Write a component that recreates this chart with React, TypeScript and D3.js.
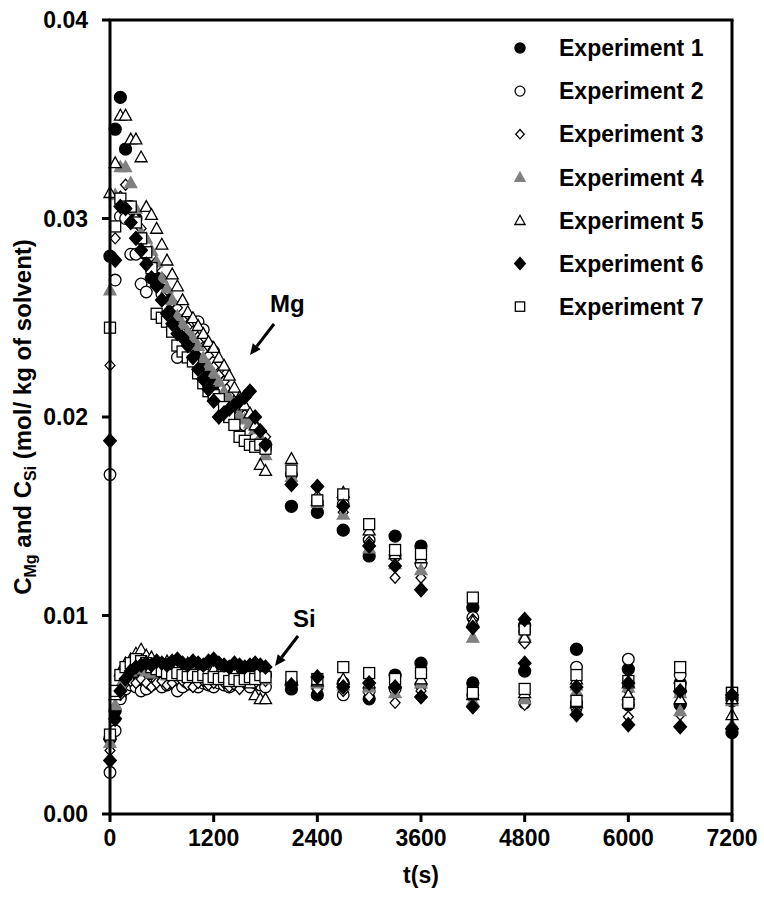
import React from "react";
import * as d3 from "d3";

// Sampling times (s): every 60 s up to 1800 s, then sparse samples.
const times = [
  0, 60, 120, 180, 240, 300, 360, 420, 480, 540, 600, 660, 720, 780, 840, 900,
  960, 1020, 1080, 1140, 1200, 1260, 1320, 1380, 1440, 1500, 1560, 1620, 1680,
  1740, 1800, 2100, 2400, 2700, 3000, 3300, 3600, 4200, 4800, 5400, 6000, 6600,
  7200,
];

// Mg concentration (mol/kg of solvent)
const mg1 = [0.0281,0.0345,0.0361,0.0335,0.0306,0.0300,0.0290,0.0282,0.0275,0.0270,0.0264,0.0260,0.0254,0.0249,0.0245,0.0238,0.0236,0.0233,0.0226,0.0222,0.0218,0.0214,0.0209,0.0205,0.0201,0.0198,0.0196,0.0193,0.0191,0.0189,0.0186,0.0155,0.0152,0.0143,0.0130,0.0140,0.0135,0.0104,0.0095,0.0083,0.0073,0.0066,0.0058];
const mg2 = [0.0171,0.0269,0.0301,0.0300,0.0282,0.0282,0.0267,0.0263,0.0270,0.0268,0.0262,0.0250,0.0244,0.0230,0.0246,0.0244,0.0248,0.0248,0.0244,0.0236,0.0233,0.0225,0.0214,0.0208,0.0206,0.0200,0.0196,0.0192,0.0189,0.0186,0.0184,0.0171,0.0157,0.0156,0.0138,0.0130,0.0126,0.0099,0.0092,0.0074,0.0078,0.0070,0.0059];
const mg3 = [0.0226,0.0290,0.0311,0.0317,0.0306,0.0300,0.0295,0.0283,0.0281,0.0276,0.0270,0.0264,0.0258,0.0255,0.0249,0.0245,0.0243,0.0238,0.0233,0.0231,0.0225,0.0221,0.0218,0.0211,0.0208,0.0204,0.0201,0.0198,0.0196,0.0193,0.0190,0.0172,0.0160,0.0152,0.0137,0.0119,0.0119,0.0098,0.0086,0.0066,0.0062,0.0060,0.0057];
const mg4 = [0.0264,0.0312,0.0326,0.0326,0.0318,0.0305,0.0293,0.0290,0.0284,0.0278,0.0270,0.0265,0.0259,0.0251,0.0247,0.0243,0.0240,0.0236,0.0230,0.0226,0.0222,0.0218,0.0213,0.0210,0.0205,0.0201,0.0199,0.0197,0.0194,0.0190,0.0181,0.0170,0.0157,0.0151,0.0134,0.0126,0.0123,0.0089,0.0090,0.0065,0.0064,0.0061,0.0057];
const mg5 = [0.0313,0.0328,0.0352,0.0352,0.0340,0.0340,0.0331,0.0306,0.0302,0.0295,0.0287,0.0279,0.0272,0.0266,0.0259,0.0253,0.0250,0.0246,0.0242,0.0238,0.0235,0.0230,0.0226,0.0221,0.0215,0.0210,0.0206,0.0202,0.0196,0.0176,0.0173,0.0179,0.0158,0.0162,0.0143,0.0131,0.0129,0.0097,0.0089,0.0068,0.0066,0.0064,0.0058];
const mg6 = [0.0188,0.0279,0.0306,0.0305,0.0298,0.0290,0.0284,0.0277,0.0270,0.0266,0.0259,0.0252,0.0247,0.0242,0.0240,0.0236,0.0230,0.0224,0.0219,0.0214,0.0208,0.0200,0.0202,0.0204,0.0206,0.0208,0.0210,0.0213,0.0200,0.0193,0.0186,0.0166,0.0165,0.0155,0.0135,0.0125,0.0113,0.0094,0.0098,0.0064,0.0066,0.0062,0.0060];
const mg7 = [0.0245,0.0296,0.0310,0.0306,0.0306,0.0298,0.0290,0.0283,0.0275,0.0252,0.0250,0.0248,0.0243,0.0236,0.0233,0.0230,0.0228,0.0222,0.0217,0.0213,0.0211,0.0209,0.0205,0.0200,0.0196,0.0190,0.0188,0.0186,0.0185,0.0186,0.0184,0.0173,0.0158,0.0161,0.0146,0.0133,0.0131,0.0109,0.0093,0.0070,0.0067,0.0074,0.0061];

// Si concentration (mol/kg of solvent)
const si1 = [0.0038,0.0052,0.0060,0.0065,0.0068,0.0070,0.0069,0.0070,0.0068,0.0069,0.0070,0.0068,0.0069,0.0070,0.0068,0.0069,0.0070,0.0068,0.0069,0.0070,0.0068,0.0067,0.0069,0.0068,0.0067,0.0069,0.0070,0.0071,0.0072,0.0071,0.0070,0.0063,0.0060,0.0066,0.0058,0.0070,0.0076,0.0066,0.0072,0.0056,0.0055,0.0055,0.0041];
const si2 = [0.0021,0.0042,0.0058,0.0063,0.0065,0.0064,0.0062,0.0063,0.0065,0.0066,0.0064,0.0065,0.0066,0.0062,0.0064,0.0066,0.0065,0.0064,0.0066,0.0065,0.0064,0.0066,0.0065,0.0064,0.0066,0.0065,0.0066,0.0064,0.0066,0.0065,0.0064,0.0066,0.0064,0.0060,0.0062,0.0063,0.0065,0.0060,0.0056,0.0054,0.0056,0.0062,0.0057];
const si3 = [0.0032,0.0047,0.0060,0.0066,0.0067,0.0066,0.0068,0.0066,0.0064,0.0066,0.0067,0.0065,0.0066,0.0068,0.0067,0.0065,0.0064,0.0066,0.0067,0.0065,0.0066,0.0068,0.0066,0.0064,0.0065,0.0063,0.0066,0.0067,0.0066,0.0068,0.0067,0.0064,0.0063,0.0062,0.0059,0.0056,0.0062,0.0058,0.0055,0.0052,0.0049,0.0050,0.0044];
const si4 = [0.0036,0.0055,0.0065,0.0070,0.0072,0.0074,0.0073,0.0072,0.0071,0.0073,0.0072,0.0070,0.0071,0.0073,0.0072,0.0070,0.0071,0.0072,0.0070,0.0071,0.0072,0.0070,0.0069,0.0071,0.0070,0.0068,0.0069,0.0070,0.0068,0.0069,0.0068,0.0067,0.0066,0.0065,0.0064,0.0061,0.0066,0.0057,0.0058,0.0062,0.0058,0.0052,0.0045];
const si5 = [0.0040,0.0060,0.0072,0.0076,0.0078,0.0081,0.0083,0.0080,0.0079,0.0076,0.0075,0.0077,0.0076,0.0075,0.0074,0.0076,0.0075,0.0073,0.0074,0.0072,0.0073,0.0071,0.0072,0.0070,0.0071,0.0069,0.0068,0.0066,0.0060,0.0058,0.0058,0.0068,0.0067,0.0068,0.0066,0.0066,0.0068,0.0060,0.0061,0.0056,0.0060,0.0058,0.0050];
const si6 = [0.0027,0.0048,0.0062,0.0068,0.0072,0.0074,0.0075,0.0076,0.0075,0.0077,0.0076,0.0075,0.0077,0.0078,0.0076,0.0075,0.0077,0.0076,0.0075,0.0077,0.0078,0.0076,0.0075,0.0074,0.0076,0.0075,0.0074,0.0075,0.0076,0.0075,0.0074,0.0065,0.0069,0.0064,0.0066,0.0064,0.0059,0.0054,0.0076,0.0050,0.0045,0.0044,0.0043];
const si7 = [0.0040,0.0062,0.0070,0.0074,0.0076,0.0078,0.0077,0.0076,0.0074,0.0073,0.0072,0.0071,0.0070,0.0071,0.0070,0.0069,0.0070,0.0069,0.0070,0.0068,0.0069,0.0068,0.0069,0.0067,0.0068,0.0067,0.0068,0.0069,0.0068,0.0070,0.0069,0.0069,0.0068,0.0074,0.0071,0.0068,0.0071,0.0061,0.0063,0.0057,0.0056,0.0064,0.0061];

const experimentNames = ["Experiment 1","Experiment 2","Experiment 3","Experiment 4","Experiment 5","Experiment 6","Experiment 7"];
const xTicks = [0, 1200, 2400, 3600, 4800, 6000, 7200];
const yTicks = [0, 0.01, 0.02, 0.03, 0.04];

type Shape = "circle" | "diamond" | "triangle" | "square";
interface Style { shape: Shape; fill: string; stroke: string; size: number; }

const styles: Style[] = [
  { shape: "circle", fill: "#000", stroke: "#000", size: 6 },
  { shape: "circle", fill: "#fff", stroke: "#000", size: 5.8 },
  { shape: "diamond", fill: "#fff", stroke: "#000", size: 5.5 },
  { shape: "triangle", fill: "#808080", stroke: "#808080", size: 6 },
  { shape: "triangle", fill: "#fff", stroke: "#000", size: 6 },
  { shape: "diamond", fill: "#000", stroke: "#000", size: 7 },
  { shape: "square", fill: "#fff", stroke: "#000", size: 5.5 },
];

const series = [
  { mg: mg1, si: si1 }, { mg: mg2, si: si2 }, { mg: mg3, si: si3 },
  { mg: mg4, si: si4 }, { mg: mg5, si: si5 }, { mg: mg6, si: si6 },
  { mg: mg7, si: si7 },
];

// Experiment 6 (filled diamonds) is painted last so it sits on top.
const drawOrder = [0, 1, 2, 3, 4, 6, 5];

const FONT = "'Liberation Sans', Arial, Helvetica, sans-serif";

function Marker({ cx, cy, st, scale = 1 }: { cx: number; cy: number; st: Style; scale?: number }) {
  const s = st.size * scale;
  const common = { fill: st.fill, stroke: st.stroke, strokeWidth: 1.3 };
  if (st.shape === "circle") return <circle cx={cx} cy={cy} r={s} {...common} />;
  if (st.shape === "square")
    return <rect x={cx - s} y={cy - s} width={2 * s} height={2 * s} {...common} />;
  if (st.shape === "diamond")
    return <path d={`M${cx},${cy - s}L${cx + s * 0.9},${cy}L${cx},${cy + s}L${cx - s * 0.9},${cy}Z`} {...common} />;
  return <path d={`M${cx},${cy - s}L${cx + s},${cy + s * 0.8}L${cx - s},${cy + s * 0.8}Z`} {...common} />;
}

function Arrow({ x1, y1, x2, y2 }: { x1: number; y1: number; x2: number; y2: number }) {
  const ang = Math.atan2(y2 - y1, x2 - x1);
  const len = 11, wid = 5;
  const bx = x2 - len * Math.cos(ang), by = y2 - len * Math.sin(ang);
  const px = -Math.sin(ang) * wid, py = Math.cos(ang) * wid;
  return (
    <g>
      <line x1={x1} y1={y1} x2={bx} y2={by} stroke="#000" strokeWidth={3} />
      <path d={`M${x2},${y2}L${bx + px},${by + py}L${bx - px},${by - py}Z`} fill="#000" />
    </g>
  );
}

export default function App() {
  const x = d3.scaleLinear().domain([0, 7200]).range([110, 732]);
  const y = d3.scaleLinear().domain([0, 0.04]).range([814, 20]);
  const [x0, x1] = x.range();
  const [yb, yt] = y.range();

  return (
    <svg width={764} height={897} style={{ position: "absolute", left: 0, top: 0, background: "#fff" }}>
      <rect width={764} height={897} fill="#fff" />
      {/* data */}
      {drawOrder.map((i) => {
        const s = series[i];
        return (
          <g key={i}>
            {s.mg.map((v, j) => <Marker key={"m" + j} cx={x(times[j])} cy={y(v)} st={styles[i]} />)}
            {s.si.map((v, j) => <Marker key={"s" + j} cx={x(times[j])} cy={y(v)} st={styles[i]} />)}
          </g>
        );
      })}
      {/* frame and axes */}
      <g stroke="#000" strokeWidth={3} fill="none">
        <line x1={x0} y1={yb} x2={x1} y2={yb} />
        <line x1={x0} y1={yb + 1.5} x2={x0} y2={yt} />
        <line x1={x0 - 1.5} y1={yt} x2={x1 + 1.5} y2={yt} />
        <line x1={x1} y1={yt} x2={x1} y2={yb + 1.5} />
        {xTicks.map((t) => <line key={t} x1={x(t)} y1={yb} x2={x(t)} y2={yb + 8} />)}
        {yTicks.map((t) => <line key={t} x1={x0 - 8} y1={y(t)} x2={x0} y2={y(t)} />)}
      </g>
      <g fontFamily={FONT} fontWeight="bold" fontSize={23} fill="#000">
        {xTicks.map((t) => (
          <text key={t} x={x(t)} y={846} textAnchor="middle">{t}</text>
        ))}
        {yTicks.map((t) => (
          <text key={t} x={88} y={y(t)} dy="0.36em" textAnchor="end">{t.toFixed(2)}</text>
        ))}
        <text x={(x0 + x1) / 2} y={883} textAnchor="middle">t(s)</text>
        <text transform={`translate(31,${(yb + yt) / 2}) rotate(-90)`} textAnchor="middle" fontSize={24}>
          C<tspan fontSize={16} dy={5}>Mg</tspan><tspan dy={-5}> and C</tspan><tspan fontSize={16} dy={5}>Si</tspan><tspan dy={-5}> (mol/ kg of solvent)</tspan>
        </text>
        <text x={270} y={312} fontSize={24}>Mg</text>
        <text x={293} y={627} fontSize={24}>Si</text>
      </g>
      <Arrow x1={274} y1={324} x2={250} y2={355} />
      <Arrow x1={298} y1={636} x2={275} y2={666} />
      {/* legend */}
      <g fontFamily={FONT} fontWeight="bold" fontSize={23}>
        {experimentNames.map((name, i) => {
          const cy = 48 + i * 43.1;
          return (
            <g key={name}>
              <Marker cx={520} cy={cy} st={styles[i]} scale={0.85} />
              <text x={559} y={cy} dy="0.36em">{name}</text>
            </g>
          );
        })}
      </g>
    </svg>
  );
}
